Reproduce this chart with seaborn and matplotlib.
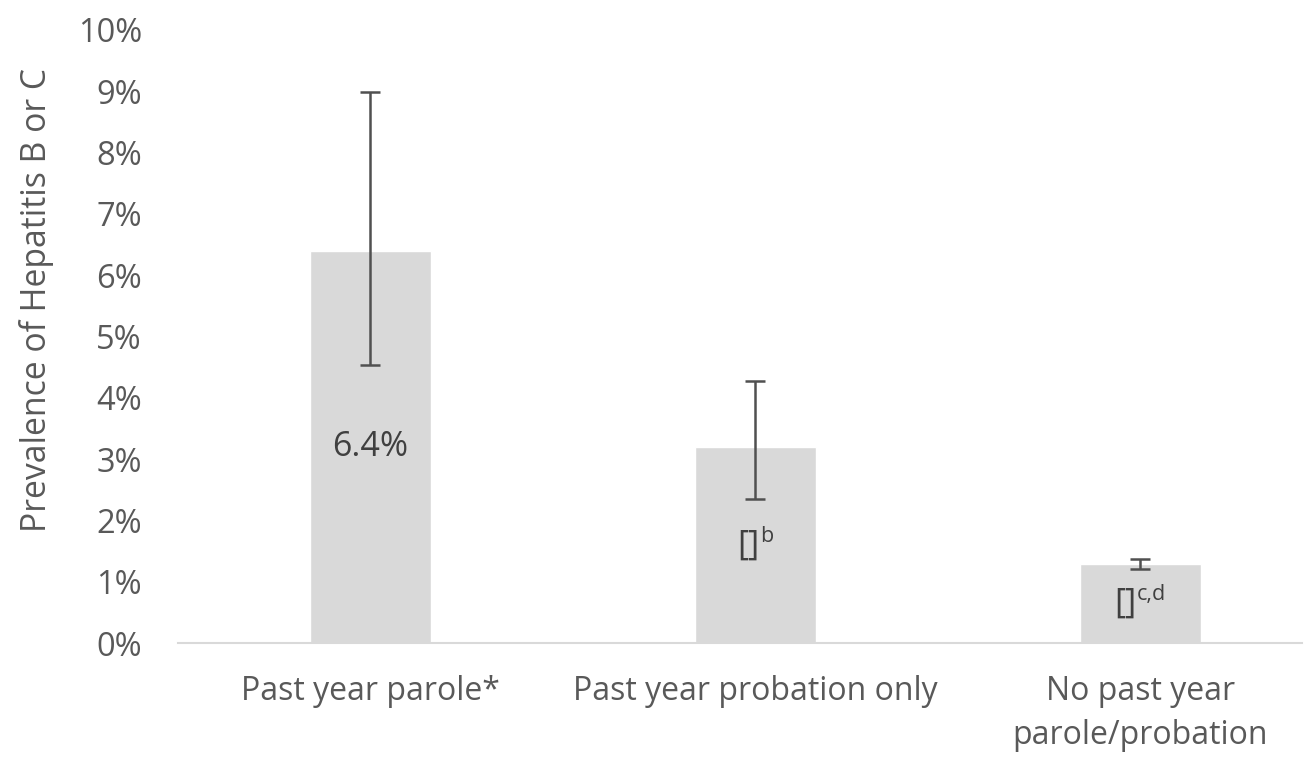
import matplotlib
matplotlib.use("Agg")
import matplotlib.pyplot as plt
import matplotlib.transforms as mtransforms
import seaborn as sns
import pandas as pd
import numpy as np
from matplotlib.ticker import FuncFormatter

categories = ["Past year parole*", "Past year probation only", "No past year\nparole/probation"]
prevalence = [6.40, 3.19, 1.29]
ci_lower = [4.53, 2.35, 1.20]
ci_upper = [8.99, 4.28, 1.37]
label_main = ["6.4%", "[]", "[]"]
label_sup = ["", "b", "c,d"]
y_ticks = list(range(0, 11))

sns.set_theme(style="white")
plt.rcParams['font.family'] = ['Open Sans', 'DejaVu Sans']

text_color = "#595959"
df = pd.DataFrame({"category": categories, "prevalence": prevalence})

fig = plt.figure(figsize=(13.09, 7.58), dpi=100)
ax = fig.add_axes([178/1309, 1 - 643/758, (1302 - 178)/1309, (643 - 30)/758])

sns.barplot(data=df, x="category", y="prevalence", color="#d9d9d9", saturation=1,
            width=0.314, errorbar=None, ax=ax, zorder=2)

x = np.arange(len(categories))
prev = np.array(prevalence)
yerr = np.vstack([prev - np.array(ci_lower), np.array(ci_upper) - prev])
ax.errorbar(x, prev, yerr=yerr, fmt="none", ecolor="#505050", elinewidth=1.8,
            capsize=7.5, capthick=1.8, zorder=3)

ax.set_ylim(0, 10)
ax.set_xlim(-0.5, 2.42)
ax.set_yticks(y_ticks)
ax.yaxis.set_major_formatter(FuncFormatter(lambda v, p: f"{int(v)}%"))
ax.tick_params(axis="y", length=0, pad=26, labelsize=23.5, labelcolor=text_color)
ax.tick_params(axis="x", length=0, pad=23, labelsize=23, labelcolor=text_color)
for lab in ax.get_xticklabels():
    lab.set_linespacing(1.45)
ax.set_xlabel("")
ax.set_ylabel("Prevalence of Hepatitis B or C", fontsize=24.3, color=text_color,
              labelpad=17, y=0.56)

for s in ["top", "right", "left"]:
    ax.spines[s].set_visible(False)
ax.spines["bottom"].set_color("#d9d9d9")
ax.spines["bottom"].set_linewidth(1.5)
ax.grid(False)

# bar labels (main text plus superscript), centred as a group
fig.canvas.draw()
renderer = fig.canvas.get_renderer()
for xi, v, main, sup in zip(x, prevalence, label_main, label_sup):
    t = ax.text(xi, v / 2, main, ha="left", va="center", fontsize=24.5,
                color="#404040", zorder=4)
    parts = [t]
    if sup:
        s = ax.annotate(sup, xy=(1, 1), xycoords=t, xytext=(0.3, 1.5),
                        textcoords="offset points", ha="left", va="top",
                        fontsize=15.5, color="#404040", zorder=4)
        parts.append(s)
    fig.canvas.draw()
    bbs = [p.get_window_extent(renderer) for p in parts]
    x0 = min(b.x0 for b in bbs)
    x1 = max(b.x1 for b in bbs)
    width_px = x1 - x0
    shift = mtransforms.ScaledTranslation(-width_px / 2 / fig.dpi, 0, fig.dpi_scale_trans)
    t.set_transform(ax.transData + shift)

fig.savefig("out.png", dpi=100)
